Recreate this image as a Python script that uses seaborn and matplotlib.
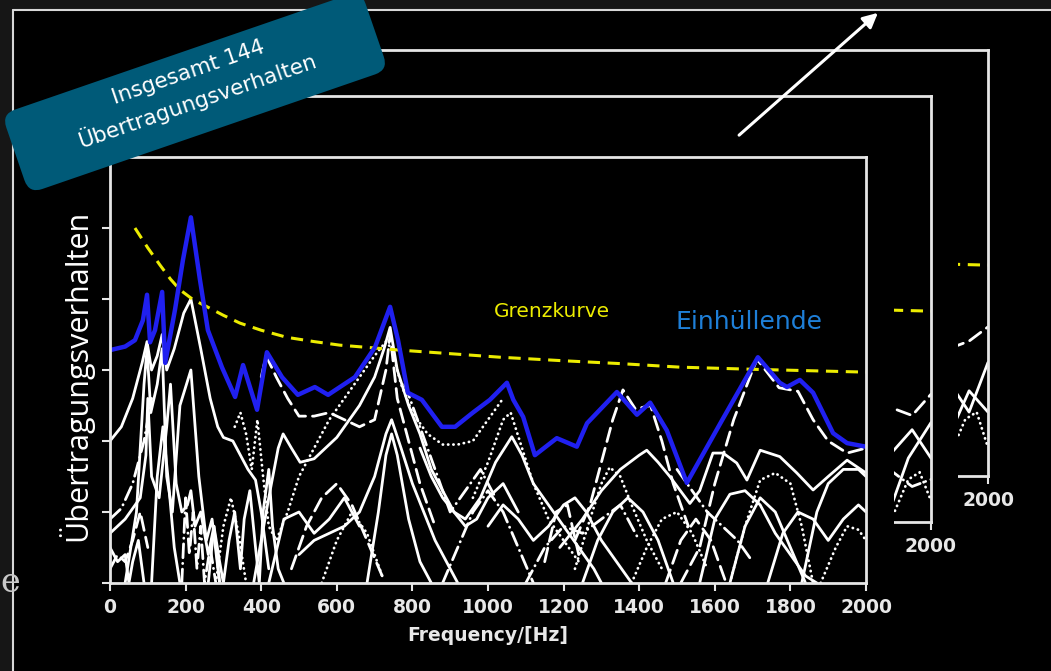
import numpy as np
import pandas as pd
import matplotlib
matplotlib.use("Agg")
import matplotlib.pyplot as plt
import seaborn as sns
from matplotlib.patches import Rectangle, FancyBboxPatch, FancyArrowPatch
from matplotlib.transforms import Affine2D

# ---------------- data ----------------
x_ticks = [0, 200, 400, 600, 800, 1000, 1200, 1400, 1600, 1800, 2000]
y_ticks = [0, 1, 2, 3, 4, 5]

grenz_f = [66, 100, 132, 160, 185, 220, 257, 300, 344, 400, 468, 540, 608, 700, 767, 900, 1032, 1200, 1350, 1508, 1700, 1850, 2000]
grenz_v = [5.0, 4.72, 4.48, 4.28, 4.13, 3.99, 3.89, 3.77, 3.66, 3.56, 3.46, 3.40, 3.35, 3.31, 3.28, 3.23, 3.18, 3.13, 3.09, 3.04, 3.01, 2.99, 2.97]

env_f = [0, 40, 66, 87, 98, 106, 119, 138, 146, 172, 193, 214, 238, 259, 296, 331, 352, 389, 415, 455,
         497, 542, 577, 648, 701, 741, 762, 788, 825, 878, 913, 960, 1005, 1050, 1067, 1093, 1124, 1182, 1235, 1262,
         1341, 1394, 1429, 1473, 1526, 1620, 1714, 1772, 1791, 1825, 1860, 1913, 1950, 2000]
env_v = [3.28, 3.33, 3.42, 3.7, 4.06, 3.39, 3.56, 4.1, 3.1, 3.85, 4.55, 5.15, 4.27, 3.56, 3.04, 2.62, 3.07, 2.44, 3.25, 2.9,
         2.65, 2.76, 2.65, 2.9, 3.32, 3.89, 3.42, 2.68, 2.58, 2.2, 2.2, 2.4, 2.58, 2.82, 2.58, 2.34, 1.8, 2.04, 1.92, 2.25,
         2.69, 2.37, 2.54, 2.15, 1.41, 2.3, 3.18, 2.82, 2.76, 2.86, 2.68, 2.11, 1.97, 1.92]

c1_f = [0, 30, 60, 85, 98, 110, 125, 138, 150, 170, 195, 214, 240, 265, 285, 300, 325, 345, 365, 385, 400, 420]
c1_v = [2.0, 2.2, 2.6, 3.1, 3.4, 3.0, 3.2, 3.5, 3.0, 3.3, 3.8, 4.0, 3.3, 2.6, 2.2, 2.05, 2.0, 1.8, 1.6, 1.45, 1.0, 0.2]
c2_f = [40, 70, 90, 98, 108, 125, 138, 150, 165, 185, 214, 235, 255, 270, 290]
c2_v = [0.0, 1.0, 2.8, 3.3, 2.4, 2.8, 3.3, 1.5, 1.0, 2.5, 3.0, 1.5, 0.6, 0.9, 0.0]
c3_f = [0, 40, 80, 95, 100, 110, 130, 150, 160, 175, 190, 205, 214, 225, 240, 260, 275, 290]
c3_v = [0.7, 0.9, 1.2, 1.8, 2.6, 1.5, 1.2, 2.2, 2.8, 1.4, 1.0, 1.1, 1.3, 0.8, 1.0, 0.4, 0.8, 0.0]
c4_f = [380, 420, 445, 458, 480, 503, 540, 600, 660, 700, 725, 741, 760, 790, 820, 850, 880, 910, 940, 980,
        1020, 1063, 1090, 1120, 1160, 1200, 1240, 1280, 1300]
c4_v = [0.0, 1.2, 1.9, 2.1, 1.9, 1.7, 1.75, 2.05, 2.5, 2.9, 3.3, 3.6, 3.0, 2.5, 2.1, 1.6, 1.3, 1.0, 0.9, 1.2,
        1.7, 2.06, 1.8, 1.4, 1.1, 0.8, 0.5, 0.2, 0.0]
c5_f = [1190, 1250, 1300, 1350, 1400, 1420, 1450, 1481, 1534, 1560, 1595, 1622, 1658, 1685, 1720, 1772, 1817, 1860, 1900, 1950, 2000]
c5_v = [0.5, 0.9, 1.3, 1.6, 1.8, 1.87, 1.7, 1.5, 1.12, 1.3, 1.83, 1.83, 1.69, 1.45, 1.87, 1.78, 1.55, 1.31, 1.5, 1.73, 1.55]
c6_f = [400, 413, 440, 470, 500, 540, 580, 620, 660, 700, 730, 741, 760, 790, 820, 860]
c6_v = [2.9, 3.2, 2.9, 2.6, 2.35, 2.35, 2.4, 2.3, 2.2, 2.3, 3.0, 3.5, 2.6, 2.0, 1.4, 0.8]
c7_f = [330, 345, 360, 375, 390, 405, 420, 440, 470, 500, 540, 580, 620, 660, 700, 730, 745, 770, 800, 840, 880, 920, 960, 1000, 1040]
c7_v = [2.2, 2.4, 2.1, 1.6, 2.3, 1.5, 0.8, 0.6, 1.0, 1.5, 1.9, 2.3, 2.6, 2.9, 3.2, 3.4, 3.3, 2.8, 2.4, 2.1, 1.95, 1.95, 2.0, 2.3, 2.6]
c8_f = [1510, 1560, 1600, 1650, 1700, 1712, 1770, 1820, 1860, 1900, 1950, 2000]
c8_v = [0.0, 0.5, 1.4, 2.3, 3.0, 3.15, 2.75, 2.7, 2.3, 2.0, 1.83, 1.9]
c9_f = [1230, 1270, 1300, 1330, 1357, 1390, 1430, 1460, 1490, 1530]
c9_v = [0.6, 1.1, 1.7, 2.3, 2.72, 2.45, 2.5, 2.0, 1.4, 0.8]
c10_f = [960, 1000, 1040, 1060, 1090, 1120, 1160, 1200, 1240]
c10_v = [1.2, 1.7, 2.3, 2.4, 1.9, 1.4, 0.9, 0.6, 0.3]
c11_f = [500, 540, 580, 620, 660, 700, 730, 745, 770, 800, 830, 860, 890, 920]
c11_v = [0.4, 0.6, 0.7, 0.8, 1.0, 1.5, 2.1, 2.3, 1.9, 1.4, 1.0, 0.6, 0.3, 0.0]
c12_f = [680, 710, 730, 745, 760, 790, 820, 850]
c12_v = [0.0, 1.0, 1.8, 2.1, 1.8, 0.9, 0.3, 0.0]
c13_f = [1560, 1600, 1640, 1680, 1720, 1760, 1800, 1840, 1870]
c13_v = [0.0, 0.9, 1.25, 1.3, 1.1, 0.7, 0.4, 0.1, 0.0]
c14_f = [1640, 1680, 1720, 1760, 1800, 1840]
c14_v = [0.0, 0.8, 1.2, 1.0, 0.5, 0.0]
c15_f = [1830, 1870, 1900, 1940, 1980, 2000]
c15_v = [0.0, 1.0, 1.4, 1.6, 1.6, 1.5]
c16_f = [1640, 1680, 1720, 1760, 1800, 1830, 1860]
c16_v = [0.0, 0.8, 1.45, 1.55, 1.4, 0.8, 0.0]
c17_f = [1880, 1920, 1950, 1980, 2000]
c17_v = [0.0, 0.5, 0.8, 0.75, 0.6]
c18_f = [1230, 1270, 1300, 1322, 1350, 1380, 1420, 1460]
c18_v = [0.2, 0.9, 1.4, 1.63, 1.5, 1.1, 0.6, 0.2]
c19_f = [1000, 1040, 1080, 1120, 1160, 1200, 1230, 1260, 1300, 1340, 1380]
c19_v = [0.8, 1.1, 0.9, 0.6, 0.8, 1.1, 1.2, 1.0, 0.6, 0.3, 0.0]
c20_f = [1100, 1150, 1200, 1250, 1300, 1350, 1400]
c20_v = [0.0, 0.5, 0.8, 0.7, 0.9, 1.1, 0.6]
c21_f = [260, 275, 290, 300, 315, 330, 345, 355, 370, 385, 395, 405, 420, 430, 445, 460]
c21_v = [0.0, 0.8, 0.3, 0.0, 0.6, 1.0, 0.2, 0.9, 1.3, 0.5, 0.0, 1.0, 1.6, 0.8, 0.2, 0.0]
c22_f = [190, 200, 210, 220, 230, 240, 250, 265, 280]
c22_v = [0.0, 1.2, 0.4, 1.0, 0.2, 0.8, 0.0, 0.5, 0.0]
c23_f = [0, 20, 40, 50, 60, 75, 90]
c23_v = [0.5, 0.3, 0.4, 0.0, 0.3, 0.6, 0.0]
c24_f = [0, 30, 60, 90, 110]
c24_v = [0.9, 1.05, 1.4, 2.0, 2.6]
c25_f = [780, 820, 860, 900, 940, 980, 1020]
c25_v = [2.8, 2.2, 1.6, 1.0, 1.3, 1.6, 1.2]
c26_f = [1150, 1180, 1210, 1240]
c26_v = [0.3, 1.0, 1.1, 0.4]
d1_f = [420, 460, 500, 540, 580, 620, 660]
d1_v = [0.0, 0.9, 1.0, 0.7, 0.9, 1.2, 0.8]
d2_f = [480, 520, 560, 600, 640, 680, 720]
d2_v = [0.2, 0.8, 1.2, 1.4, 1.1, 0.6, 0.1]
d3_f = [560, 600, 640, 680, 720]
d3_v = [0.0, 0.6, 1.0, 0.7, 0.1]
d4_f = [820, 850, 880, 910, 940, 970, 1000, 1040, 1080]
d4_v = [1.9, 1.5, 1.2, 1.0, 0.8, 0.9, 1.2, 1.4, 1.0]
d5_f = [880, 920, 960, 1000, 1040, 1080, 1120]
d5_v = [0.0, 0.5, 1.0, 1.3, 1.0, 0.5, 0.0]
d6_f = [1250, 1290, 1330, 1370, 1410, 1450, 1490]
d6_v = [0.0, 0.6, 1.0, 1.2, 1.0, 0.6, 0.0]
d7_f = [1380, 1420, 1460, 1500, 1540, 1580]
d7_v = [0.0, 0.5, 0.9, 1.0, 0.7, 0.2]
d8_f = [1470, 1510, 1550, 1590, 1630]
d8_v = [0.0, 0.6, 0.9, 0.6, 0.0]
d9_f = [1740, 1780, 1820, 1860, 1900, 1940, 1980, 2000]
d9_v = [0.0, 0.7, 1.0, 0.9, 0.6, 0.9, 1.1, 1.0]
d10_f = [1500, 1540, 1580, 1620, 1660, 1700]
d10_v = [1.6, 1.3, 1.0, 0.8, 0.6, 0.3]
d11_f = [110, 125, 140, 155, 170, 185]
d11_v = [0.0, 1.5, 2.2, 1.4, 0.5, 0.0]
d12_f = [280, 300, 320, 340, 360]
d12_v = [0.0, 0.8, 1.2, 0.7, 0.0]
d13_f = [0, 20, 40, 60, 80, 100]
d13_v = [0.2, 0.4, 0.3, 0.6, 1.0, 0.5]

# curves of the two frames behind (only the last part is visible)
b2a_f = [1860, 1900, 1950, 2000]; b2a_v = [0.8, 1.0, 1.3, 0.9]
b2b_f = [1860, 1900, 1940, 2000]; b2b_v = [0.0, 0.3, 0.9, 1.4]
b2c_f = [1860, 1900, 1950, 2000]; b2c_v = [1.5, 1.6, 1.5, 1.8]
b2d_f = [1860, 1900, 1940, 1970, 2000]; b2d_v = [0.0, 0.1, 0.6, 0.7, 0.3]
b2e_f = [1860, 1900, 1950, 2000]; b2e_v = [1.1, 0.7, 0.5, 0.6]
b3a_f = [1860, 1900, 1950, 2000]; b3a_v = [1.6, 1.3, 0.9, 1.6]
b3b_f = [1860, 1900, 1950, 2000]; b3b_v = [0.2, 0.6, 1.2, 0.9]
b3c_f = [1860, 1900, 1950, 2000]; b3c_v = [2.0, 1.8, 1.9, 2.1]
b3d_f = [1860, 1900, 1940, 1970, 2000]; b3d_v = [0.0, 0.3, 0.8, 0.9, 0.4]

# ---------------- styles ----------------
SOLID = "-"
DASH = (0, (5, 2.5))
DOT = (0, (0.1, 1.8))
DASHDOT = (0, (5, 2, 0.1, 2))

main_curves = [
    (c1_f, c1_v, SOLID), (c2_f, c2_v, SOLID), (c3_f, c3_v, SOLID), (c4_f, c4_v, SOLID),
    (c5_f, c5_v, SOLID), (c6_f, c6_v, DASH), (c7_f, c7_v, DOT), (c8_f, c8_v, DASH),
    (c9_f, c9_v, DASH), (c10_f, c10_v, DOT), (c11_f, c11_v, SOLID), (c12_f, c12_v, SOLID),
    (c13_f, c13_v, SOLID), (c14_f, c14_v, SOLID), (c15_f, c15_v, SOLID), (c16_f, c16_v, DOT),
    (c17_f, c17_v, DOT), (c18_f, c18_v, DOT), (c19_f, c19_v, SOLID), (c20_f, c20_v, DASHDOT),
    (c21_f, c21_v, SOLID), (c22_f, c22_v, DASHDOT), (c23_f, c23_v, SOLID), (c24_f, c24_v, DASHDOT),
    (c25_f, c25_v, DASHDOT), (c26_f, c26_v, DASH),
    (d1_f, d1_v, SOLID), (d2_f, d2_v, DASH), (d3_f, d3_v, DOT), (d4_f, d4_v, SOLID),
    (d5_f, d5_v, DASHDOT), (d6_f, d6_v, SOLID), (d7_f, d7_v, DOT), (d8_f, d8_v, DASH),
    (d9_f, d9_v, SOLID), (d10_f, d10_v, DASHDOT), (d11_f, d11_v, SOLID), (d12_f, d12_v, DOT),
    (d13_f, d13_v, DASH),
]
frame2_curves = [(b2a_f, b2a_v, SOLID), (b2b_f, b2b_v, SOLID), (b2c_f, b2c_v, DASH),
                 (b2d_f, b2d_v, DOT), (b2e_f, b2e_v, DASHDOT)]
frame3_curves = [(b3a_f, b3a_v, SOLID), (b3b_f, b3b_v, SOLID), (b3c_f, b3c_v, DASH),
                 (b3d_f, b3d_v, DOT)]

# ---------------- figure ----------------
sns.set_theme(style="ticks")
plt.rcParams["font.family"] = ["DejaVu Sans"]

W, H = 1051, 671
fig = plt.figure(figsize=(W / 100, H / 100), dpi=100, facecolor="black")


def fx(x):
    return x / W


def fy(y):
    return 1 - y / H


def rect_px(x0, y0, x1, y1):
    return [fx(x0), fy(y1), (x1 - x0) / W, (y1 - y0) / H]


SPINE = "#e6e6e6"
YELLOW = "#ecec00"
BLUE = "#2020f0"


def make_axes(x0, y0, x1, y1, z, show_left=True):
    ax = fig.add_axes(rect_px(x0, y0, x1, y1), zorder=z)
    ax.set_facecolor("black")
    ax.set_xlim(0, 2000)
    ax.set_ylim(0, 6)
    for s in ax.spines.values():
        s.set_color(SPINE)
        s.set_linewidth(2.0)
    ax.spines["left"].set_visible(show_left)
    ax.set_xticks(x_ticks)
    ax.set_yticks(y_ticks if show_left else [])
    ax.set_yticklabels([])
    ax.tick_params(axis="both", direction="out", length=6, width=1.5, color=SPINE,
                   labelcolor="#e8e8e8", labelsize=13.5, pad=5)
    ax.tick_params(axis="x", which="both", top=False)
    ax.tick_params(axis="y", right=False)
    for lbl in ax.get_xticklabels():
        lbl.set_fontweight("bold")
    ax.grid(False)
    return ax


def draw_curves(ax, curves):
    for f, v, ls in curves:
        sns.lineplot(x=f, y=v, ax=ax, color="white", lw=2.0, linestyle=ls,
                     estimator=None, sort=False, dash_capstyle="round",
                     solid_capstyle="round", solid_joinstyle="round", legend=False)


def draw_grenz(ax):
    sns.lineplot(x=grenz_f, y=grenz_v, ax=ax, color=YELLOW, lw=2.2,
                 linestyle=(0, (4, 2.5)), estimator=None)


# back frame 3
ax3 = make_axes(232, 50, 988, 476, 1, show_left=False)
draw_grenz(ax3)
draw_curves(ax3, frame3_curves)
ax3.set_xlabel("")
ax3.set_ylabel("")
fig.patches.append(Rectangle((fx(14), 0), fx(958) - fx(14), fy(100), transform=fig.transFigure,
                             facecolor="black", edgecolor="none", zorder=2))

# back frame 2
ax2 = make_axes(175, 96, 931, 522, 3, show_left=False)
draw_grenz(ax2)
draw_curves(ax2, frame2_curves)
ax2.set_xlabel("")
ax2.set_ylabel("")
fig.patches.append(Rectangle((fx(14), 0), fx(894) - fx(14), fy(160), transform=fig.transFigure,
                             facecolor="black", edgecolor="none", zorder=4))

# main chart
ax = make_axes(110, 157, 866, 583, 5, show_left=True)
draw_curves(ax, main_curves)
draw_grenz(ax)
sns.lineplot(x=env_f, y=env_v, ax=ax, color=BLUE, lw=3.2, estimator=None, sort=False,
             solid_joinstyle="round")
ax.set_xlabel("Frequency/[Hz]", color="#e8e8e8", fontsize=13.5, fontweight="bold", labelpad=6)
ax.set_ylabel("")
ax.text(1169, 3.82, "Grenzkurve", color=YELLOW, fontsize=14.5, ha="center", va="center")
ax.text(1690, 3.68, "Einhüllende", color="#1e7fd8", fontsize=18, ha="center", va="center")

# slide frame / background
fig.patches.append(Rectangle((0, 0), fx(13), 1, transform=fig.transFigure,
                             facecolor="#161616", edgecolor="none", zorder=7))
fig.patches.append(Rectangle((0, fy(9)), 1, 1 - fy(9), transform=fig.transFigure,
                             facecolor="#161616", edgecolor="none", zorder=7))
fig.lines.append(plt.Line2D([fx(13), fx(13)], [0, fy(10)], transform=fig.transFigure,
                            color="#d8d8d8", lw=1.5, zorder=8))
fig.lines.append(plt.Line2D([fx(13), 1], [fy(10), fy(10)], transform=fig.transFigure,
                            color="#d8d8d8", lw=1.5, zorder=8))
fig.text(fx(0), fy(583), "e", color="#c8c8c8", fontsize=24, ha="left", va="center",
         family="DejaVu Serif", zorder=9)

# y label
fig.text(fx(75), fy(375), "Übertragungsverhalten", rotation=90, color="white",
         fontsize=22, ha="center", va="center", zorder=9,
         family=["Open Sans", "DejaVu Sans"])

# arrow
fig.patches.append(FancyArrowPatch(
    (fx(737), fy(137)), (fx(880), fy(11)), transform=fig.transFigure,
    arrowstyle="-|>", mutation_scale=22, color="white", lw=2.2, zorder=9))

# rotated label box
cx, cy = 195, 92
box = FancyBboxPatch((-190, -42), 380, 84, boxstyle="round,pad=0,rounding_size=14",
                     facecolor="#005a78", edgecolor="none", zorder=10,
                     transform=Affine2D().rotate_deg(19).translate(cx, H - cy))
fig.patches.append(box)
fig.text(fx(193), fy(87), "Insgesamt 144\nÜbertragungsverhalten", rotation=19,
         rotation_mode="anchor", color="white", fontsize=15.5, ha="center", va="center",
         multialignment="center", linespacing=1.35, zorder=11)

fig.savefig("out.png", dpi=100, facecolor="black")
